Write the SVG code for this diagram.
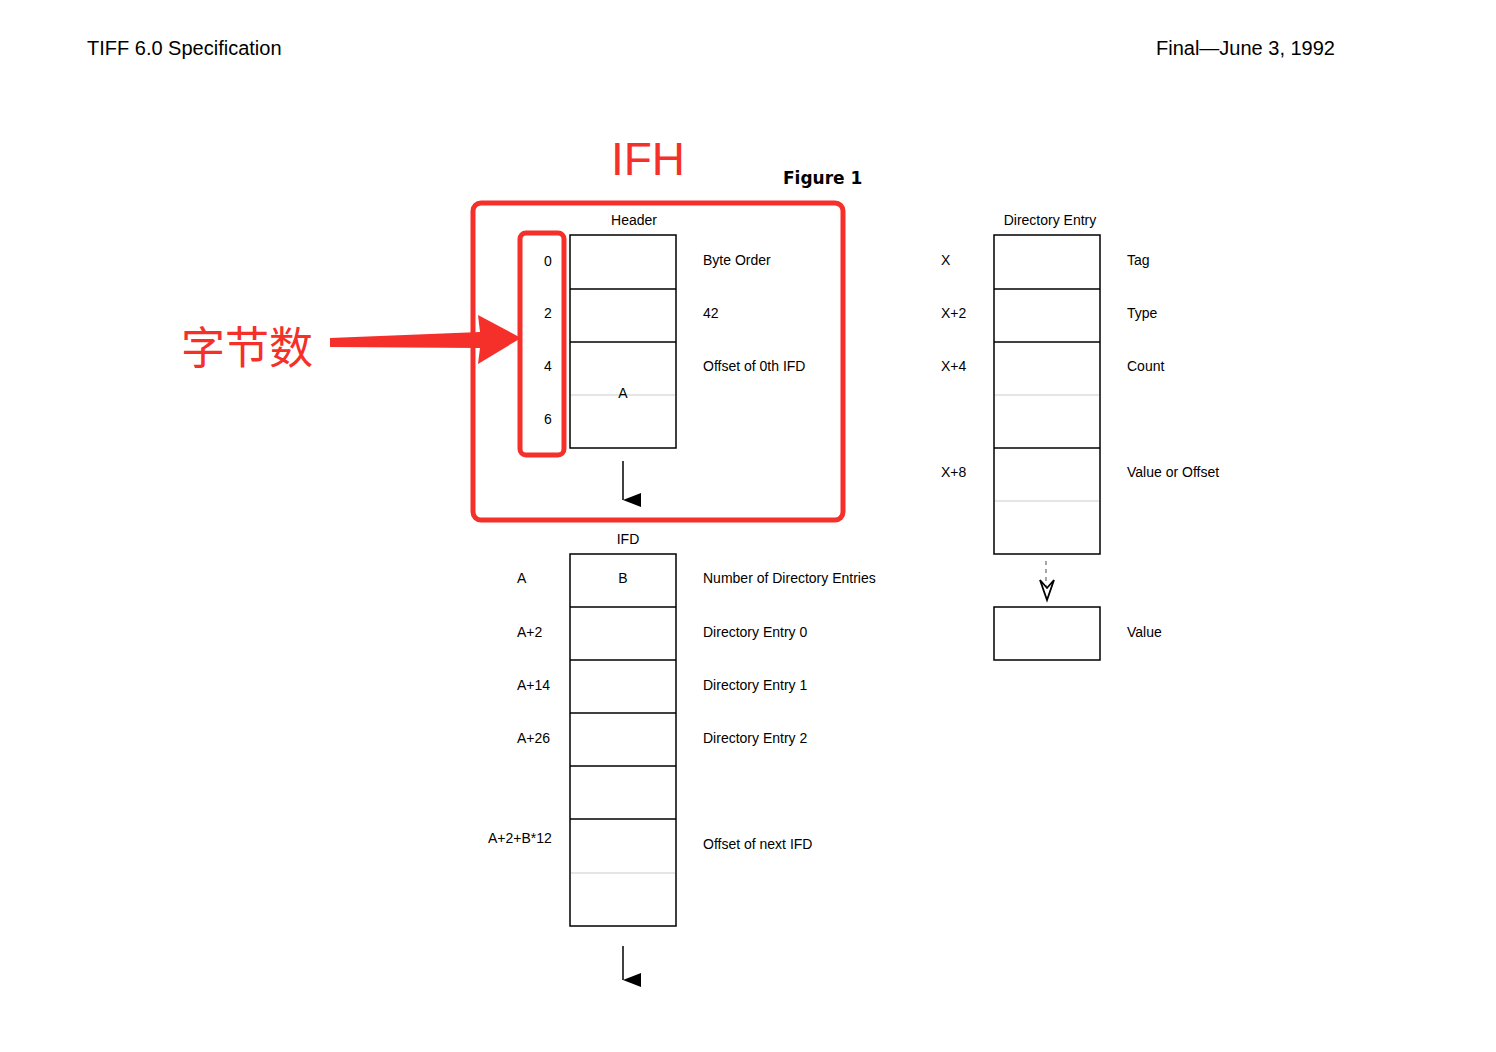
<svg xmlns="http://www.w3.org/2000/svg" width="1496" height="1052" viewBox="0 0 1496 1052">
<style>
.t{font-family:"Liberation Sans",Arial,sans-serif;font-size:14px;fill:#000}
.h{font-family:"Liberation Sans",Arial,sans-serif;font-size:20px;fill:#000}
.b{fill:#fff;stroke:#000;stroke-width:1.5}
.d{stroke:#000;stroke-width:1.5}
.l{stroke:#ddd;stroke-width:1.5}
.r{fill:none;stroke:#f5302a;stroke-width:5}
</style>
<defs>
<marker id="ah" markerWidth="14" markerHeight="18" refX="7" refY="18" orient="auto-start-reverse" markerUnits="userSpaceOnUse" viewBox="0 0 14 18"><path d="M0,0 L14,0 L7,18 Z" fill="#000"/></marker>
</defs>
<rect width="1496" height="1052" fill="#fff"/>
<text class="h" x="87" y="55">TIFF 6.0 Specification</text>
<text class="h" x="1335" y="55" text-anchor="end">Final—June 3, 1992</text>
<text x="783" y="184" style="font-family:'DejaVu Sans',sans-serif;font-size:17px;font-weight:bold">Figure  1</text>
<text x="648" y="175" text-anchor="middle" style="font-family:'Liberation Sans',sans-serif;font-size:46px;fill:#f5302a">IFH</text>
<text x="247" y="364" text-anchor="middle" style="font-family:'Noto Sans CJK SC',sans-serif;font-size:44px;fill:#f5302a">字节数</text>
<g id="header">
<text class="t" x="634" y="225" text-anchor="middle">Header</text>
<rect class="b" x="570" y="235" width="106" height="213"/>
<line class="d" x1="570" y1="289" x2="676" y2="289"/>
<line class="d" x1="570" y1="342" x2="676" y2="342"/>
<line class="l" x1="571" y1="395" x2="675" y2="395"/>
<text class="t" x="623" y="398" text-anchor="middle">A</text>
<text class="t" x="548" y="266" text-anchor="middle">0</text>
<text class="t" x="548" y="318" text-anchor="middle">2</text>
<text class="t" x="548" y="371" text-anchor="middle">4</text>
<text class="t" x="548" y="424" text-anchor="middle">6</text>
<text class="t" x="703" y="265">Byte Order</text>
<text class="t" x="703" y="318">42</text>
<text class="t" x="703" y="371">Offset of 0th IFD</text>
</g>
<g id="ifd">
<text class="t" x="628" y="544" text-anchor="middle">IFD</text>
<rect class="b" x="570" y="554" width="106" height="372"/>
<line class="d" x1="570" y1="607" x2="676" y2="607"/>
<line class="d" x1="570" y1="660" x2="676" y2="660"/>
<line class="d" x1="570" y1="713" x2="676" y2="713"/>
<line class="d" x1="570" y1="766" x2="676" y2="766"/>
<line class="d" x1="570" y1="819" x2="676" y2="819"/>
<line class="l" x1="571" y1="873" x2="675" y2="873"/>
<text class="t" x="623" y="583" text-anchor="middle">B</text>
<text class="t" x="517" y="583">A</text>
<text class="t" x="517" y="637">A+2</text>
<text class="t" x="517" y="690">A+14</text>
<text class="t" x="517" y="743">A+26</text>
<text class="t" x="488" y="843">A+2+B*12</text>
<text class="t" x="703" y="583">Number of Directory Entries</text>
<text class="t" x="703" y="637">Directory Entry 0</text>
<text class="t" x="703" y="690">Directory Entry 1</text>
<text class="t" x="703" y="743">Directory Entry 2</text>
<text class="t" x="703" y="849">Offset of next IFD</text>
</g>
<g id="direntry">
<text class="t" x="1050" y="225" text-anchor="middle">Directory Entry</text>
<rect class="b" x="994" y="235" width="106" height="319"/>
<line class="d" x1="994" y1="289" x2="1100" y2="289"/>
<line class="d" x1="994" y1="342" x2="1100" y2="342"/>
<line class="l" x1="995" y1="395" x2="1099" y2="395"/>
<line class="d" x1="994" y1="448" x2="1100" y2="448"/>
<line class="l" x1="995" y1="501" x2="1099" y2="501"/>
<text class="t" x="941" y="265">X</text>
<text class="t" x="941" y="318">X+2</text>
<text class="t" x="941" y="371">X+4</text>
<text class="t" x="941" y="477">X+8</text>
<text class="t" x="1127" y="265">Tag</text>
<text class="t" x="1127" y="318">Type</text>
<text class="t" x="1127" y="371">Count</text>
<text class="t" x="1127" y="477">Value or Offset</text>
</g>
<g id="value">
<rect class="b" x="994" y="607" width="106" height="53"/>
<text class="t" x="1127" y="637">Value</text>
</g>
<g id="connectors">
<line class="d" x1="623" y1="461" x2="623" y2="500" marker-end="url(#ah)"/>
<line class="d" x1="623" y1="946" x2="623" y2="980" marker-end="url(#ah)"/>
<line x1="1046" y1="561" x2="1046" y2="598" stroke="#888" stroke-width="1.5" stroke-dasharray="4,4"/>
<path d="M1040,580 L1047,600 L1054,580 L1047,588 Z" fill="#fff" stroke="#000" stroke-width="1.8"/>
</g>
<g id="annotations">
<rect class="r" x="473" y="203" width="370" height="317" rx="8"/>
<rect class="r" x="520" y="233" width="44" height="222" rx="6"/>
<path d="M330,338 L480,332 L478,315 L521,338 L478,364 L480,348 L330,347 Z" fill="#f5302a"/>
</g>
</svg>
